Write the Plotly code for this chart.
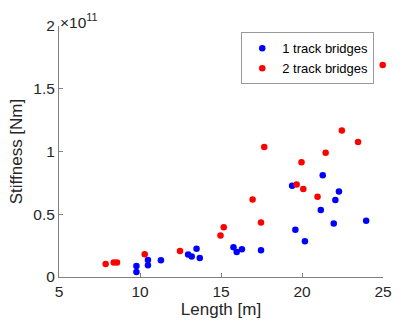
import plotly.graph_objects as go

# Stiffness values in units of 1e11 Nm
len_1track = [9.78, 9.78, 10.49, 10.49, 11.29, 12.97, 13.19, 13.49, 13.69, 15.77, 15.97, 16.29,
              17.47, 19.39, 19.59, 20.18, 21.16, 21.28, 21.96, 22.06, 22.28, 23.96]
stiff_1track = [0.088, 0.040, 0.136, 0.093, 0.133, 0.179, 0.163, 0.226, 0.152, 0.237, 0.200, 0.221,
                0.213, 0.727, 0.376, 0.285, 0.533, 0.810, 0.426, 0.613, 0.682, 0.448]
len_2track = [7.88, 8.38, 8.58, 10.29, 12.47, 14.97, 15.17, 16.95, 17.47, 17.67, 19.67, 19.97,
              20.08, 20.96, 21.46, 22.46, 23.46, 24.98]
stiff_2track = [0.104, 0.115, 0.115, 0.181, 0.208, 0.330, 0.397, 0.618, 0.434, 1.036, 0.738, 0.914,
                0.701, 0.640, 0.991, 1.167, 1.076, 1.690]

x_ticks = [5, 10, 15, 20, 25]
y_ticks = [0, 0.5, 1, 1.5, 2]
y_tick_labels = ["0", "0.5", "1", "1.5", "2"]

font = "Liberation Sans, Arial, sans-serif"
axcol = "#262626"

fig = go.Figure()
fig.add_trace(go.Scatter(x=len_1track, y=stiff_1track, mode="markers", name="1 track bridges",
                         cliponaxis=False,
                         marker=dict(color="#0000ff", size=6.5)))
fig.add_trace(go.Scatter(x=len_2track, y=stiff_2track, mode="markers", name="2 track bridges",
                         cliponaxis=False,
                         marker=dict(color="#ff0000", size=6.5)))

fig.update_layout(
    width=404, height=329,
    margin=dict(l=59, r=12, t=26, b=52),
    plot_bgcolor="white", paper_bgcolor="white",
    font=dict(family=font, color=axcol),
    legend=dict(x=0.973, xanchor="right", y=0.975, yanchor="top",
                bordercolor="#999999", borderwidth=1, bgcolor="white",
                font=dict(size=13, family=font, color="#000000"),
                itemwidth=30, tracegroupgap=0),
    xaxis=dict(range=[5, 25], tickvals=x_ticks, showgrid=False, zeroline=False,
               showline=True, linecolor="#808080", linewidth=1,
               ticks="inside", ticklen=4, tickcolor="#808080",
               tickfont=dict(size=15.5, color=axcol),
               title=dict(text="Length [m]", font=dict(size=17, color=axcol), standoff=4)),
    yaxis=dict(range=[0, 2], tickvals=y_ticks, ticktext=y_tick_labels, showgrid=False, zeroline=False,
               showline=True, linecolor="#808080", linewidth=1,
               ticks="inside", ticklen=4, tickcolor="#808080",
               tickfont=dict(size=15.5, color=axcol),
               title=dict(text="Stiffness [Nm]", font=dict(size=17, color=axcol), standoff=6)),
    showlegend=True,
)

fig.add_annotation(xref="paper", yref="paper", x=0.0, y=1.0, xanchor="left", yanchor="bottom",
                   text="×10<sup>11</sup>", showarrow=False,
                   font=dict(size=15.5, family=font, color=axcol), xshift=-1, yshift=-7)

fig.write_html("out.html")
